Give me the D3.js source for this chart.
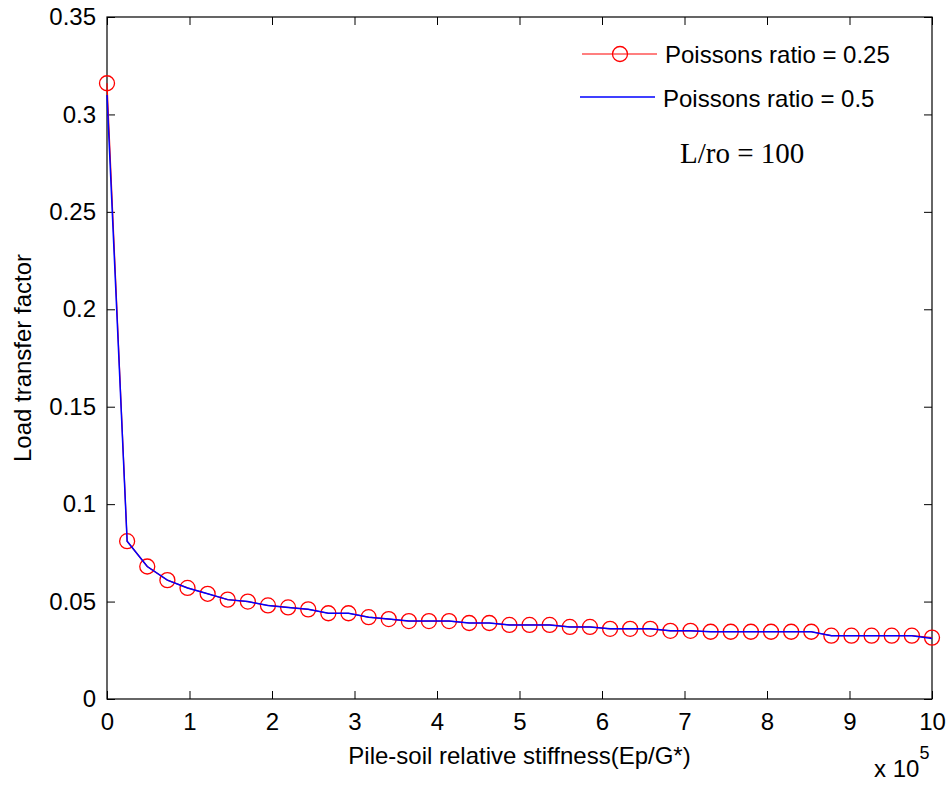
<!DOCTYPE html>
<html>
<head>
<meta charset="utf-8">
<script src="https://cdn.jsdelivr.net/npm/d3@7"></script>
<style>
  body { margin: 0; background: #fff; }
  text { font-family: "Liberation Sans", Arial, sans-serif; }
</style>
</head>
<body>
<div id="chart"></div>
<script>
// x in units of 1e5 (Ep/G*)
var stiffness = [0, 0.244, 0.488, 0.732, 0.976, 1.220, 1.463, 1.707, 1.951, 2.195,
                 2.439, 2.683, 2.927, 3.171, 3.415, 3.659, 3.902, 4.146, 4.390, 4.634,
                 4.878, 5.122, 5.366, 5.610, 5.854, 6.098, 6.341, 6.585, 6.829, 7.073,
                 7.317, 7.561, 7.805, 8.049, 8.293, 8.537, 8.780, 9.024, 9.268, 9.512,
                 9.756, 10];

var nu025 = [0.316, 0.081, 0.068, 0.061, 0.057, 0.054, 0.051, 0.050, 0.048, 0.047,
             0.046, 0.044, 0.044, 0.042, 0.041, 0.040, 0.040, 0.040, 0.039, 0.039,
             0.038, 0.038, 0.038, 0.037, 0.037, 0.036, 0.036, 0.036, 0.035, 0.035,
             0.0345, 0.0345, 0.0345, 0.0345, 0.0345, 0.0345, 0.0325, 0.0325, 0.0325, 0.0325,
             0.0325, 0.0315];

var nu05 = [0.310, 0.081, 0.068, 0.061, 0.057, 0.054, 0.051, 0.050, 0.048, 0.047,
            0.046, 0.044, 0.044, 0.042, 0.041, 0.040, 0.040, 0.040, 0.039, 0.039,
            0.038, 0.038, 0.038, 0.037, 0.037, 0.036, 0.036, 0.036, 0.035, 0.035,
            0.0345, 0.0345, 0.0345, 0.0345, 0.0345, 0.0345, 0.0325, 0.0325, 0.0325, 0.0325,
            0.0325, 0.0310];

var xTicks = [0, 1, 2, 3, 4, 5, 6, 7, 8, 9, 10];
var yTicks = [0, 0.05, 0.1, 0.15, 0.2, 0.25, 0.3, 0.35];
var legendNames = ['Poissons ratio = 0.25', 'Poissons ratio = 0.5'];

var width = 946;
var height = 785;
var margin = {left: 107, right: 14, top: 17, bottom: 86};

var svg = d3.select("#chart").append("svg")
    .attr("width", width)
    .attr("height", height)
    .style("background", "#fff");

var x = d3.scaleLinear()
    .domain([0, 10])
    .range([margin.left, width - margin.right]);

var y = d3.scaleLinear()
    .domain([0, 0.35])
    .range([height - margin.bottom, margin.top]);

var tickFmt = function(d){ return d3.format("~g")(d); };

// axes, ticks pointing inward
svg.append("g")
    .attr("transform", "translate(0," + y(0) + ")")
    .call(d3.axisBottom(x).tickValues(xTicks).tickSize(-8).tickPadding(14).tickFormat(tickFmt))
    .call(function(g){ g.select(".domain").remove(); });

svg.append("g")
    .attr("transform", "translate(0," + y(0.35) + ")")
    .call(d3.axisTop(x).tickValues(xTicks).tickSize(-8).tickFormat(""))
    .call(function(g){ g.select(".domain").remove(); });

svg.append("g")
    .attr("transform", "translate(" + x(0) + ",0)")
    .call(d3.axisLeft(y).tickValues(yTicks).tickSize(-8).tickPadding(11).tickFormat(tickFmt))
    .call(function(g){ g.select(".domain").remove(); });

svg.append("g")
    .attr("transform", "translate(" + x(10) + ",0)")
    .call(d3.axisRight(y).tickValues(yTicks).tickSize(-8).tickFormat(""))
    .call(function(g){ g.select(".domain").remove(); });

svg.selectAll(".tick line").attr("stroke", "#000").attr("stroke-width", 1);
svg.selectAll(".tick text")
    .attr("fill", "#000")
    .style("font-size", "24px")
    .style("font-family", '"Liberation Sans", Arial, sans-serif');

// box
svg.append("rect")
    .attr("x", x(0))
    .attr("y", y(0.35))
    .attr("width", x(10) - x(0))
    .attr("height", y(0) - y(0.35))
    .attr("fill", "none")
    .attr("stroke", "#000")
    .attr("stroke-width", 1.2);

var line = function(vals){
  return d3.line()
    .x(function(d,i){ return x(stiffness[i]); })
    .y(function(d){ return y(d); })(vals);
};

svg.append("path")
    .attr("d", line(nu025))
    .attr("fill", "none")
    .attr("stroke", "#ff0000")
    .attr("stroke-width", 1.2);

svg.selectAll("circle.m")
    .data(nu025)
    .enter().append("circle")
      .attr("class", "m")
      .attr("cx", function(d,i){ return x(stiffness[i]); })
      .attr("cy", function(d){ return y(d); })
      .attr("r", 7.5)
      .attr("fill", "none")
      .attr("stroke", "#ff0000")
      .attr("stroke-width", 1.3);

svg.append("path")
    .attr("d", line(nu05))
    .attr("fill", "none")
    .attr("stroke", "#0000ff")
    .attr("stroke-width", 1.5);

// legend (no box)
var leg = svg.append("g");
leg.append("line").attr("x1", 582).attr("x2", 657).attr("y1", 54).attr("y2", 54)
    .attr("stroke", "#ff0000").attr("stroke-width", 1.2);
leg.append("circle").attr("cx", 620).attr("cy", 54).attr("r", 7.5)
    .attr("fill", "none").attr("stroke", "#ff0000").attr("stroke-width", 1.3);
leg.append("line").attr("x1", 580).attr("x2", 655).attr("y1", 97).attr("y2", 97)
    .attr("stroke", "#0000ff").attr("stroke-width", 1.5);

leg.selectAll("text")
    .data(legendNames)
    .enter().append("text")
      .attr("x", function(d,i){ return i == 0 ? 665 : 663; })
      .attr("y", function(d,i){ return 63 + i*44; })
      .attr("font-size", 24)
      .text(function(d){ return d; });

svg.append("text")
    .attr("x", 680)
    .attr("y", 163)
    .style("font-family", '"Liberation Serif", "Times New Roman", serif')
    .attr("font-size", 29)
    .text("L/ro = 100");

// axis labels
svg.append("text")
    .attr("x", (x(0) + x(10)) / 2)
    .attr("y", 764)
    .attr("text-anchor", "middle")
    .attr("font-size", 24)
    .text("Pile-soil relative stiffness(Ep/G*)");

svg.append("text")
    .attr("transform", "translate(31," + (y(0) + y(0.35)) / 2 + ") rotate(-90)")
    .attr("text-anchor", "middle")
    .attr("font-size", 24)
    .text("Load transfer factor");

var expo = svg.append("text")
    .attr("x", 874)
    .attr("y", 777)
    .attr("font-size", 24);
expo.append("tspan").text("x 10");
expo.append("tspan").attr("dy", -18).attr("font-size", 18).text("5");
</script>
</body>
</html>
